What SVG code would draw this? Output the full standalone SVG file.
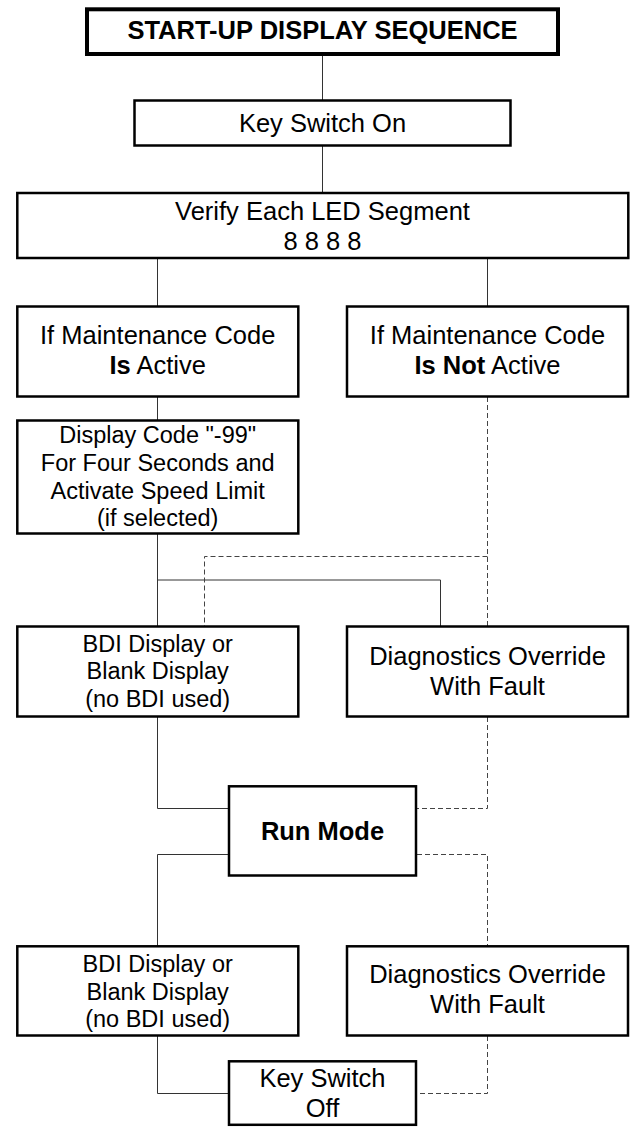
<svg xmlns="http://www.w3.org/2000/svg" width="631" height="1127" viewBox="0 0 631 1127">
<style>
.box{fill:#fff;stroke:#000;stroke-width:2.5}
.title{fill:#fff;stroke:#000;stroke-width:4}
.t{font-family:"Liberation Sans",Arial,sans-serif;font-size:25.5px;fill:#000;text-anchor:middle}
.s{font-family:"Liberation Sans",Arial,sans-serif;font-size:23.5px;fill:#000;text-anchor:middle}
.b{font-weight:bold}
.c{fill:none;stroke:#333;stroke-width:1}
.d{fill:none;stroke:#444;stroke-width:1;stroke-dasharray:5 3}
</style>
<rect width="631" height="1127" fill="#fff"/>
<g id="connectors">
<line class="c" x1="322.5" y1="56" x2="322.5" y2="100"/>
<line class="c" x1="322.5" y1="146" x2="322.5" y2="192"/>
<line class="c" x1="157.5" y1="259" x2="157.5" y2="306"/>
<line class="c" x1="487.5" y1="259" x2="487.5" y2="306"/>
<line class="c" x1="157.5" y1="397" x2="157.5" y2="420"/>
<line class="c" x1="157.5" y1="534" x2="157.5" y2="626"/>
<polyline class="c" points="157.5,580 440.5,580 440.5,626"/>
<polyline class="c" points="157.5,717 157.5,808.5 229,808.5"/>
<polyline class="c" points="229,854.5 157.5,854.5 157.5,946"/>
<polyline class="c" points="157.5,1036 157.5,1093.5 229,1093.5"/>
<line class="d" x1="487.5" y1="397" x2="487.5" y2="626"/>
<polyline class="d" points="487.5,556.5 204.5,556.5 204.5,626"/>
<polyline class="d" points="487.5,717 487.5,808.5 417,808.5"/>
<polyline class="d" points="417,854.5 487.5,854.5 487.5,946"/>
<polyline class="d" points="487.5,1036 487.5,1093.5 417,1093.5"/>
</g>
<g id="title">
<rect class="title" x="87" y="9.3" width="471" height="44.7"/>
<text class="t b" x="322.5" y="39">START-UP DISPLAY SEQUENCE</text>
</g>
<g id="key-on">
<rect class="box" x="134.5" y="100.5" width="376" height="45"/>
<text class="t" x="322.5" y="131.8">Key Switch On</text>
</g>
<g id="verify">
<rect class="box" x="17.3" y="193" width="611" height="65"/>
<text class="t" x="322.5" y="219.8">Verify Each LED Segment</text>
<text class="t" x="322.5" y="249.8">8 8 8 8</text>
</g>
<g id="maint-active">
<rect class="box" x="17.3" y="306.5" width="281" height="90"/>
<text class="t" x="157.7" y="344.1">If Maintenance Code</text>
<text class="t" x="157.7" y="374.1"><tspan class="b">Is</tspan> Active</text>
</g>
<g id="maint-not-active">
<rect class="box" x="347" y="306.5" width="281" height="90"/>
<text class="t" x="487.5" y="344.1">If Maintenance Code</text>
<text class="t" x="487.5" y="374.1"><tspan class="b">Is Not</tspan> Active</text>
</g>
<g id="display-code">
<rect class="box" x="17.3" y="420.5" width="281" height="113"/>
<text class="s" x="157.7" y="443.4">Display Code "-99"</text>
<text class="s" x="157.7" y="471.1">For Four Seconds and</text>
<text class="s" x="157.7" y="499.1">Activate Speed Limit</text>
<text class="s" x="157.7" y="525.7">(if selected)</text>
</g>
<g id="bdi-1">
<rect class="box" x="17.3" y="626.5" width="281" height="90"/>
<text class="s" x="157.7" y="651.7">BDI Display or</text>
<text class="s" x="157.7" y="679.2">Blank Display</text>
<text class="s" x="157.7" y="706.7">(no BDI used)</text>
</g>
<g id="diag-1">
<rect class="box" x="347" y="626.5" width="281" height="90"/>
<text class="t" x="487.5" y="664.8">Diagnostics Override</text>
<text class="t" x="487.5" y="694.8">With Fault</text>
</g>
<g id="run-mode">
<rect class="box" x="229" y="786.3" width="187" height="89.2"/>
<text class="t b" x="322.5" y="839.8">Run Mode</text>
</g>
<g id="bdi-2">
<rect class="box" x="17.3" y="946.3" width="281" height="89.2"/>
<text class="s" x="157.7" y="972.4">BDI Display or</text>
<text class="s" x="157.7" y="999.6">Blank Display</text>
<text class="s" x="157.7" y="1026.6">(no BDI used)</text>
</g>
<g id="diag-2">
<rect class="box" x="347" y="946.3" width="281" height="89.2"/>
<text class="t" x="487.5" y="983.4">Diagnostics Override</text>
<text class="t" x="487.5" y="1013.4">With Fault</text>
</g>
<g id="key-off">
<rect class="box" x="229" y="1061.3" width="187" height="63.5"/>
<text class="t" x="322.5" y="1087.4">Key Switch</text>
<text class="t" x="322.5" y="1117.4">Off</text>
</g>
</svg>
